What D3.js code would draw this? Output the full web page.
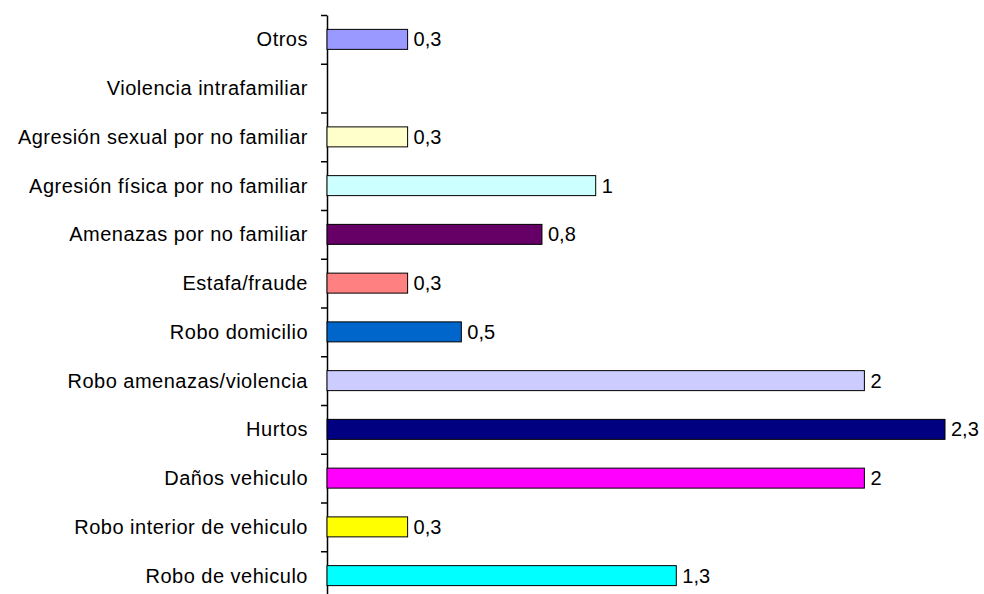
<html>
<head>
<meta charset="utf-8">
<script src="https://d3js.org/d3.v7.min.js"></script>
<style>
body { margin: 0; background: #fff; }
text { font-family: Arial, "Liberation Sans", sans-serif; font-size: 20px; fill: #000; }
text.cat { letter-spacing: 0.5px; }
</style>
</head>
<body>
<div id="plot"></div>
<script>

var width = 984;
var height = 594;

// Categories top to bottom
var categories = ["Otros", "Violencia intrafamiliar", "Agresión sexual por no familiar",
  "Agresión física por no familiar", "Amenazas por no familiar", "Estafa/fraude",
  "Robo domicilio", "Robo amenazas/violencia", "Hurtos", "Daños vehiculo",
  "Robo interior de vehiculo", "Robo de vehiculo"];
var values = [0.3, 0, 0.3, 1, 0.8, 0.3, 0.5, 2, 2.3, 2, 0.3, 1.3];
var colors = ["#9999ff", "#993366", "#ffffcc", "#ccffff", "#660066", "#ff8080",
  "#0066cc", "#ccccff", "#000080", "#ff00ff", "#ffff00", "#00ffff"];

var plotLeft = 327, plotTop = 15, plotBottom = 600;

var svg = d3.select("#plot").append("svg")
  .attr("width", width).attr("height", height);

var xScale = d3.scaleLinear().domain([0, 2.3]).range([plotLeft, 945]);
var yScale = d3.scaleBand().domain(categories).range([plotTop, plotBottom]).paddingInner(0.59).paddingOuter(0.295);

// axis with ticks between categories
var tickScale = d3.scaleLinear().domain([0, categories.length]).range([plotTop, plotBottom]);
var yAxis = d3.axisLeft(tickScale).ticks(categories.length).tickFormat("").tickSize(6).tickSizeOuter(0);
var axisG = svg.append("g").attr("transform", "translate(" + plotLeft + ",0)").call(yAxis);
axisG.select(".domain").attr("stroke", "#000").attr("stroke-width", 1.5);
axisG.selectAll(".tick line").attr("stroke", "#000").attr("stroke-width", 1.5);

var rows = categories.map(function (c, i) { return { name: c, value: values[i], color: colors[i] }; });

svg.selectAll("rect.bar").data(rows.filter(function (d) { return d.value > 0; }))
  .enter().append("rect")
  .attr("class", "bar")
  .attr("x", xScale(0))
  .attr("y", function (d) { return yScale(d.name); })
  .attr("width", function (d) { return xScale(d.value) - xScale(0); })
  .attr("height", yScale.bandwidth())
  .attr("fill", function (d) { return d.color; })
  .attr("stroke", "#000")
  .attr("stroke-width", 1);

svg.selectAll("text.cat").data(rows)
  .enter().append("text")
  .attr("class", "cat")
  .attr("x", 308)
  .attr("y", function (d) { return yScale(d.name) + yScale.bandwidth() / 2; })
  .attr("dy", "0.35em")
  .attr("text-anchor", "end")
  .text(function (d) { return d.name; });

svg.selectAll("text.val").data(rows.filter(function (d) { return d.value > 0; }))
  .enter().append("text")
  .attr("class", "val")
  .attr("x", function (d) { return xScale(d.value) + 6; })
  .attr("y", function (d) { return yScale(d.name) + yScale.bandwidth() / 2; })
  .attr("dy", "0.35em")
  .text(function (d) { return String(d.value).replace(".", ","); });

</script>
</body>
</html>
